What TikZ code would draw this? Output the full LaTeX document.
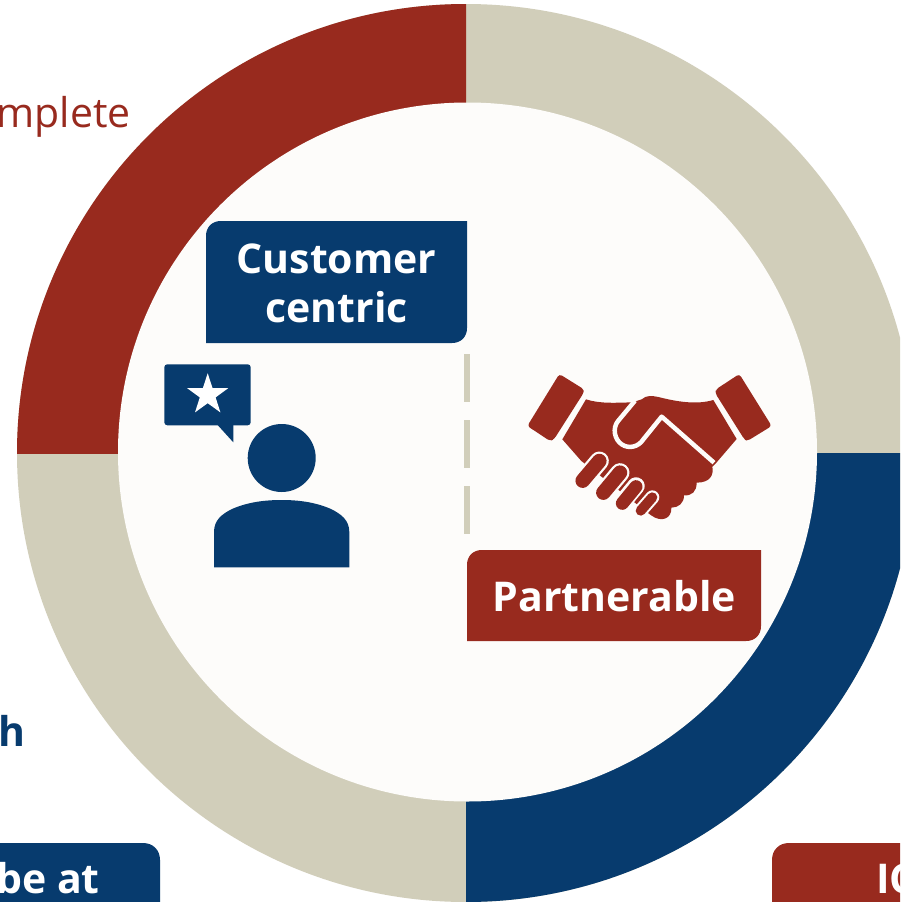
\documentclass[tikz,border=0pt]{standalone}
\usepackage{fontspec}
\setmainfont{Open Sans}
\definecolor{cred}{HTML}{982A1E}
\definecolor{cblue}{HTML}{073B6E}
\definecolor{cbeige}{HTML}{D1CEBA}
\definecolor{cinner}{HTML}{FDFCFA}
\tikzset{
  boxlabel/.style={text=white,font=\fontsize{41}{50}\selectfont\bfseries,align=center,inner sep=0pt},
  dashbar/.style={fill=cbeige},
  fingerhalo/.style={draw=cinner,line cap=round},
  fingerbar/.style={draw=cred,line cap=round},
}
\begin{document}
\begin{tikzpicture}[x=1pt,y=-1pt]
\useasboundingbox (0,0) rectangle (900,902);
\clip (0,0) rectangle (900,902);
\fill[white] (0,0) rectangle (900,902);
% ring
\coordinate (ringc) at (466,453);
\fill[cbeige] (ringc) circle[radius=449pt];
\begin{scope}
\clip (0,0) rectangle (ringc);
\fill[cred] (ringc) circle[radius=449pt];
\end{scope}
\begin{scope}
\clip (ringc) rectangle (900,902);
\fill[cblue] (ringc) circle[radius=449pt];
\end{scope}
\fill[cinner] (467.5,452) circle[radius=349.5pt];
% dashes
\fill[dashbar] (464,354) rectangle (470,402);
\fill[dashbar] (464,420) rectangle (470,468);
\fill[dashbar] (464,486) rectangle (470,534);
% label boxes
\fill[cblue] (206,343) -- (206,236) .. controls (206,227) and (212,221) .. (221,221) -- (467,221) -- (467,328) .. controls (467,337) and (461,343) .. (452,343) -- cycle;
\node[boxlabel] (customer) at (336.5,283) {Customer\\[-1pt]centric};
\fill[cred] (467,641) -- (467,565) .. controls (467,556) and (473,550) .. (482,550) -- (761,550) -- (761,626) .. controls (761,635) and (755,641) .. (746,641) -- cycle;
\node[boxlabel,anchor=base] (partner) at (614.5,611) {Partnerable};
\fill[cblue] (-5,843) -- (143,843) .. controls (153,843) and (160,850) .. (160,860) -- (160,907) -- (-5,907) -- cycle;
\node[boxlabel,anchor=base east] (beat) at (100,893) {be at};
\fill[cred] (905,843) -- (789,843) .. controls (779,843) and (772,850) .. (772,860) -- (772,907) -- (905,907) -- cycle;
\node[boxlabel,anchor=base west] (ic) at (876,893) {IC};
% cropped outer texts
\node[anchor=base east,inner sep=0pt,text=cred,font=\fontsize{41}{48}\selectfont] (complete) at (131,127) {mplete};
\node[anchor=base east,inner sep=0pt,text=cblue,font=\fontsize{41}{48}\selectfont\bfseries] (hh) at (26,746) {h};
% person icon
\fill[cblue] (281.7,458) circle[radius=34pt];
\fill[cblue] (214,567.3) -- (214,532) .. controls (214,520) and (222,514) .. (232,509) .. controls (248,502) and (265,500) .. (281.7,500) .. controls (298,500) and (315,502) .. (331,509) .. controls (341,514) and (349.3,520) .. (349.3,532) -- (349.3,567.3) -- cycle;
\fill[cblue,rounded corners=3pt] (164.3,364.3) rectangle (250.7,425.3);
\fill[cblue] (216.7,424) -- (233.3,442.3) -- (233.3,424) -- cycle;
\fill[white] (207.7,373.3) -- (212.6,388.2) -- (228.2,388.2) -- (215.6,397.4) -- (220.4,412.4) -- (207.7,403.2) -- (195,412.4) -- (199.8,397.4) -- (187.2,388.2) -- (202.8,388.2) -- cycle;
% handshake icon
\begin{scope}[shift={(510,360)},x=0.33333pt,y=-0.33333pt]
\fill[cred,rounded corners=3pt] (148,42) -- (222,88) -- (220,100) -- (132,238) -- (120,243) -- (52,198) -- cycle;
\fill[cred,rounded corners=3pt] (688,42) -- (785,198) -- (712,243) -- (703,238) -- (616,100) -- (618,88) -- cycle;
\fill[cred] (228,118) .. controls (270,132) and (320,128) .. (368,127) -- (395,118) .. controls (410,105) and (425,107) .. (445,111) .. controls (500,125) and (560,135) .. (610,120) -- (680,237) -- (620,307) -- (607,320) .. controls (612,345) and (600,368) .. (560,368) .. controls (560,395) and (545,408) .. (522,406) .. controls (522,430) and (505,443) .. (484,443) .. controls (486,475) and (455,490) .. (422,465) -- (214,303) -- (157,238) -- cycle;
\draw[cinner,line width=4.5pt,line join=round] (375,122) -- (325,182) .. controls (305,205) and (315,240) .. (335,253) .. controls (355,267) and (385,262) .. (400,238) -- (455,170) -- (612,308);
% fingers
\draw[fingerhalo,line width=19pt] (218,362) -- (268,303);
\draw[fingerhalo,line width=19pt] (280,398) -- (330,338);
\draw[fingerhalo,line width=17.5pt] (335,430) -- (378,378);
\draw[fingerhalo,line width=14pt] (392,452) -- (427,412);
\draw[fingerbar,line width=14.5pt] (218,362) -- (268,303);
\draw[fingerbar,line width=14.5pt] (280,398) -- (330,338);
\draw[fingerbar,line width=13pt] (337,430) -- (378,380);
\draw[fingerbar,line width=10pt] (392,452) -- (427,412);
\end{scope}
\end{tikzpicture}
\end{document}
